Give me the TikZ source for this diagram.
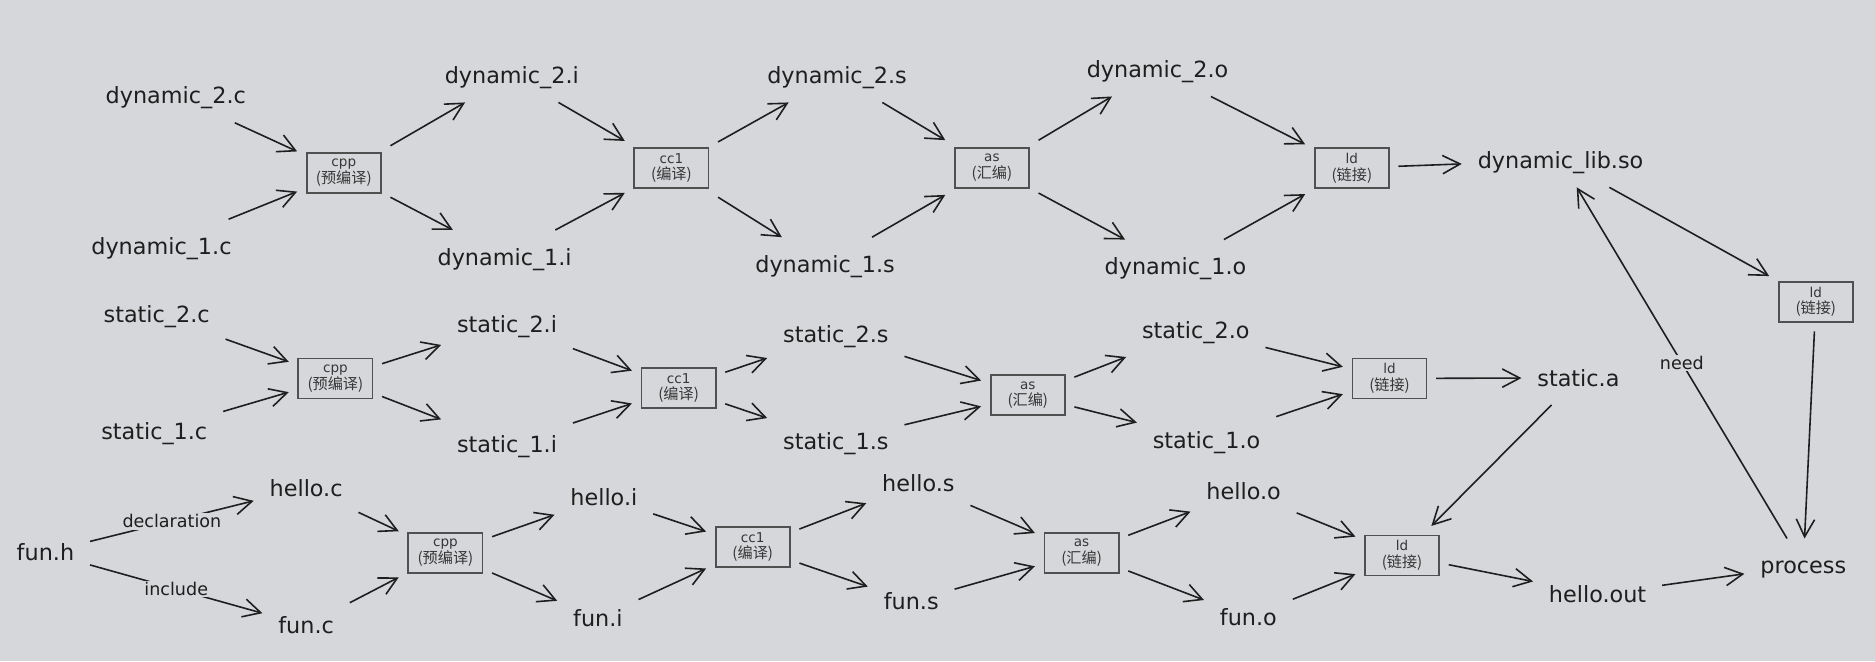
\documentclass[tikz,border=0pt]{standalone}
\usepackage{fontspec}
\setmainfont{DejaVu Sans}
\newfontfamily\cjk{Noto Sans CJK SC}
\usetikzlibrary{arrows.meta}

\tikzset{every picture/.style={line width=0.75pt}}
\tikzset{
  file/.style={inner sep=3pt, outer sep=7pt, text height=12.1pt, text depth=1.9pt,
    font=\fontsize{14}{16}\selectfont, text={rgb, 255:red, 30; green, 30; blue, 30 }},
  tool/.style={draw={rgb, 255:red, 80; green, 80; blue, 80 }, line width=1.1pt,
    minimum width=46.5pt, minimum height=25pt, inner sep=0pt, outer sep=6pt,
    align=center, font=\fontsize{9.5}{10.5}\selectfont, text={rgb, 255:red, 55; green, 55; blue, 55 }},
  flow/.style={draw={rgb, 255:red, 30; green, 30; blue, 30 }, line width=1pt,
    -{Straight Barb[length=11pt,width=11.5pt]}},
  tag/.style={midway, inner sep=1pt, fill={rgb, 255:red, 214; green, 215; blue, 218 },
    font=\fontsize{11}{12}\selectfont, text={rgb, 255:red, 30; green, 30; blue, 30 }}
}

\begin{document}
\begin{tikzpicture}[x=0.75pt,y=0.75pt,yscale=-1,xscale=1]
%set diagram left start at 0, and has height of 553
\fill [fill={rgb, 255:red, 214; green, 215; blue, 218 }] (0,0) rectangle (1568,553);
\useasboundingbox (0,0) rectangle (1568,553);

% Text Node
\draw (147,80) node (d2c) [file] {dynamic\_2.c};
% Text Node
\draw (135,206) node (d1c) [file] {dynamic\_1.c};
% Shape: Rectangle
\draw (287.5,144.5) node (cpp1) [tool] {{\fontsize{8.5}{10.5}\selectfont cpp}\\{\cjk (预编译)}};
% Text Node
\draw (428,63) node (d2i) [file] {dynamic\_2.i};
% Text Node
\draw (422,215) node (d1i) [file] {dynamic\_1.i};
% Shape: Rectangle
\draw (561.5,140.5) node (cc1a) [tool] {{\fontsize{8.5}{10.5}\selectfont cc1}\\{\cjk (编译)}};
% Text Node
\draw (700,63) node (d2s) [file] {dynamic\_2.s};
% Text Node
\draw (690,221) node (d1s) [file] {dynamic\_1.s};
% Shape: Rectangle
\draw (829.5,140.5) node (as1) [tool] {{\fontsize{8.5}{10.5}\selectfont as}\\{\cjk (汇编)}};
% Text Node
\draw (968,58) node (d2o) [file] {dynamic\_2.o};
% Text Node
\draw (983,223) node (d1o) [file] {dynamic\_1.o};
% Shape: Rectangle
\draw (1130.5,140.5) node (ld1) [tool] {{\fontsize{8.5}{10.5}\selectfont ld}\\{\cjk (链接)}};
% Text Node
\draw (1305,134) node (dso) [file] {dynamic\_lib.so};
% Shape: Rectangle
\draw (1518.5,252.5) node (ld4) [tool] {{\fontsize{8.5}{10.5}\selectfont ld}\\{\cjk (链接)}};
% Text Node
\draw (1508,473) node (proc) [file] {process};

% Text Node
\draw (131,263) node (s2c) [file] {static\_2.c};
% Text Node
\draw (129,361) node (s1c) [file] {static\_1.c};
% Shape: Rectangle
\draw (280.5,316.5) node (cpp2) [tool] {{\fontsize{8.5}{10.5}\selectfont cpp}\\{\cjk (预编译)}};
% Text Node
\draw (424,271) node (s2i) [file] {static\_2.i};
% Text Node
\draw (424,372) node (s1i) [file] {static\_1.i};
% Shape: Rectangle
\draw (567.5,324.5) node (cc1b) [tool] {{\fontsize{8.5}{10.5}\selectfont cc1}\\{\cjk (编译)}};
% Text Node
\draw (699,280) node (s2s) [file] {static\_2.s};
% Text Node
\draw (699,369) node (s1s) [file] {static\_1.s};
% Shape: Rectangle
\draw (859.5,330.5) node (as2) [tool] {{\fontsize{8.5}{10.5}\selectfont as}\\{\cjk (汇编)}};
% Text Node
\draw (1000,276) node (s2o) [file] {static\_2.o};
% Text Node
\draw (1009,368) node (s1o) [file] {static\_1.o};
% Shape: Rectangle
\draw (1162,316.5) node (ld2) [tool] {{\fontsize{8.5}{10.5}\selectfont ld}\\{\cjk (链接)}};
% Text Node
\draw (1320,316) node (sa) [file] {static.a};

% Text Node
\draw (38,462) node (funh) [file] {fun.h};
% Text Node
\draw (256,408) node (helloc) [file] {hello.c};
% Text Node
\draw (256,523) node (func) [file] {fun.c};
% Shape: Rectangle
\draw (372.5,462.5) node (cpp3) [tool] {{\fontsize{8.5}{10.5}\selectfont cpp}\\{\cjk (预编译)}};
% Text Node
\draw (505,416) node (helloi) [file] {hello.i};
% Text Node
\draw (500,517) node (funi) [file] {fun.i};
% Shape: Rectangle
\draw (629.5,457.5) node (cc1c) [tool] {{\fontsize{8.5}{10.5}\selectfont cc1}\\{\cjk (编译)}};
% Text Node
\draw (768,404) node (hellos) [file] {hello.s};
% Text Node
\draw (762,503) node (funs) [file] {fun.s};
% Shape: Rectangle
\draw (904.5,462.5) node (as3) [tool] {{\fontsize{8.5}{10.5}\selectfont as}\\{\cjk (汇编)}};
% Text Node
\draw (1040,411) node (helloo) [file] {hello.o};
% Text Node
\draw (1044,516) node (funo) [file] {fun.o};
% Shape: Rectangle
\draw (1172.5,464.5) node (ld3) [tool] {{\fontsize{8.5}{10.5}\selectfont ld}\\{\cjk (链接)}};
% Text Node
\draw (1336,497) node (hout) [file] {hello.out};

%Straight Lines
\draw [flow] (d2c) -- (cpp1);
\draw [flow] (d1c) -- (cpp1);
\draw [flow] (cpp1) -- (d2i);
\draw [flow] (cpp1) -- (d1i);
\draw [flow] (d2i) -- (cc1a);
\draw [flow] (d1i) -- (cc1a);
\draw [flow] (cc1a) -- (d2s);
\draw [flow] (cc1a) -- (d1s);
\draw [flow] (d2s) -- (as1);
\draw [flow] (d1s) -- (as1);
\draw [flow] (as1) -- (d2o);
\draw [flow] (as1) -- (d1o);
\draw [flow] (d2o) -- (ld1);
\draw [flow] (d1o) -- (ld1);
\draw [flow] (ld1) -- (dso);
\draw [flow] (dso) -- (ld4);
\draw [flow] (ld4) -- (proc);
\draw [flow] (proc) -- node [tag] {need} (dso);

%Straight Lines
\draw [flow] (s2c) -- (cpp2);
\draw [flow] (s1c) -- (cpp2);
\draw [flow] (cpp2) -- (s2i);
\draw [flow] (cpp2) -- (s1i);
\draw [flow] (s2i) -- (cc1b);
\draw [flow] (s1i) -- (cc1b);
\draw [flow] (cc1b) -- (s2s);
\draw [flow] (cc1b) -- (s1s);
\draw [flow] (s2s) -- (as2);
\draw [flow] (s1s) -- (as2);
\draw [flow] (as2) -- (s2o);
\draw [flow] (as2) -- (s1o);
\draw [flow] (s2o) -- (ld2);
\draw [flow] (s1o) -- (ld2);
\draw [flow] (ld2) -- (sa);
\draw [flow] (sa) -- (ld3);

%Straight Lines
\draw [flow] (funh) -- node [tag] {declaration} (helloc);
\draw [flow] (funh) -- node [tag] {include} (func);
\draw [flow] (helloc) -- (cpp3);
\draw [flow] (func) -- (cpp3);
\draw [flow] (cpp3) -- (helloi);
\draw [flow] (cpp3) -- (funi);
\draw [flow] (helloi) -- (cc1c);
\draw [flow] (funi) -- (cc1c);
\draw [flow] (cc1c) -- (hellos);
\draw [flow] (cc1c) -- (funs);
\draw [flow] (hellos) -- (as3);
\draw [flow] (funs) -- (as3);
\draw [flow] (as3) -- (helloo);
\draw [flow] (as3) -- (funo);
\draw [flow] (helloo) -- (ld3);
\draw [flow] (funo) -- (ld3);
\draw [flow] (ld3) -- (hout);
\draw [flow] (hout) -- (proc);

\end{tikzpicture}
\end{document}
